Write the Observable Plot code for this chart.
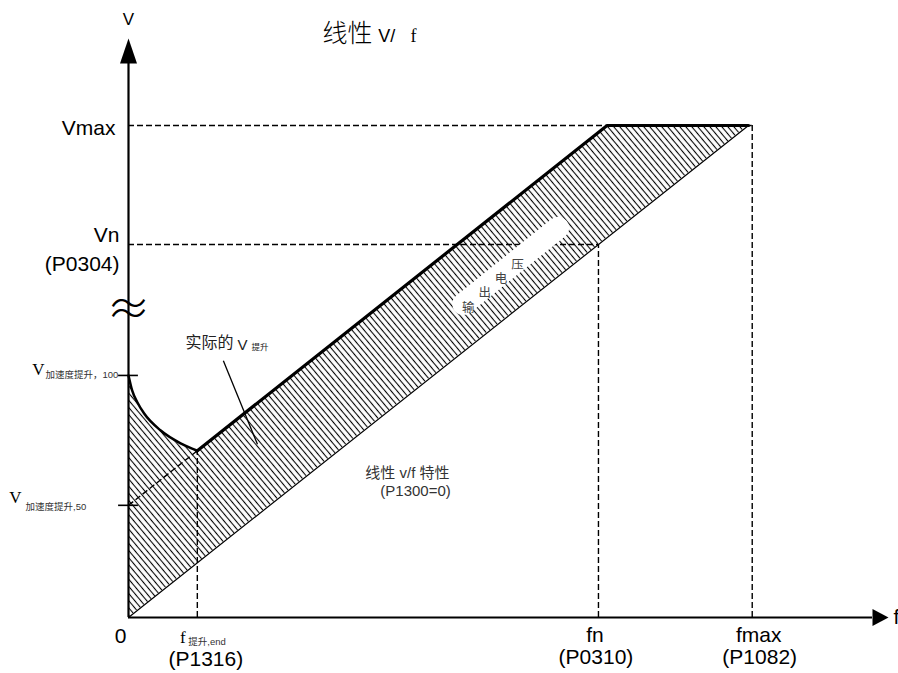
<!DOCTYPE html>
<html><head><meta charset="utf-8">
<script src="https://cdn.jsdelivr.net/npm/d3@7"></script>
<script src="https://cdn.jsdelivr.net/npm/@observablehq/plot@0.6"></script>
<style>body{margin:0;background:#fff}</style>
</head><body><div id="chart"></div>
<script>
// ---- values ----
const fNames  = ["0", "f", "fn", "fmax"];
const fSubs   = ["", "提升,end", "", ""];
const fParams = ["", "(P1316)", "(P0310)", "(P1082)"];
const fValues = [0, 11.1, 75.8, 100.6];

const vNames  = ["Vmax", "Vn", "V", "V"];
const vSubs   = ["", "", "加速度提升，100", "加速度提升,50"];
const vParams = ["", "(P0304)", "", ""];
const vValues = [100, 75.8, 49.2, 22.8];

const boostCurveF = [0, 0.6, 1.4, 2.5, 5.2, 8.4, 11.1];
const boostCurveV = [49.2, 46.1, 43.8, 41.5, 38.0, 35.4, 33.9];
const boostLineF  = [11.1, 77.2, 100];
const boostLineV  = [33.9, 100, 100];
const linearF = [0, 100];
const linearV = [0, 100];

const outputLabel = ["输", "出", "电", "压"];
const titleText = ["线性", "V/", "f"];
const boostNote = ["实际的", "V", "提升"];
const linearNote = ["线性 v/f 特性", "(P1300=0)"];

// ---- derived tables ----
const linear = d3.scaleLinear(linearF, linearV);
const curveArea = boostCurveF.map((f, i) => ({f, lo: linear(f), hi: boostCurveV[i]}));
const lineArea  = boostLineF.map((f, i) => ({f, lo: linear(f), hi: boostLineV[i]}));
const curvePts = boostCurveF.map((f, i) => [f, boostCurveV[i]]);
const linePts  = boostLineF.map((f, i) => [f, boostLineV[i]]);
const linPts   = linearF.map((f, i) => [f, linearV[i]]);

const SANS = "Liberation Sans, Arial, Noto Sans CJK SC, sans-serif";
const SERIF = "Liberation Serif, Times New Roman, serif";
const CJK = "Noto Sans CJK SC, sans-serif";

const dash = {stroke: "black", strokeWidth: 1.4, strokeDasharray: "6,3"};

function label(txt, x, y, o) {
  return Plot.text([txt], {x, y, text: d => d, lineAnchor: "bottom", fill: "black",
    fontFamily: SANS, fontSize: 21, ...o});
}

const arrowUp = {draw(ctx) { ctx.moveTo(0, -25); ctx.lineTo(8.5, 0); ctx.lineTo(-8.5, 0); ctx.closePath(); }};
const arrowRight = {draw(ctx) { ctx.moveTo(16, 0); ctx.lineTo(0, -8.5); ctx.lineTo(0, 8.5); ctx.closePath(); }};

const yAxisTop = 112.6, yArrowTip = 117.7, xAxisEnd = 120, xArrowTip = 122.6;

const svg = Plot.plot({
  width: 898, height: 673,
  marginLeft: 128, marginRight: 1.2, marginTop: 2, marginBottom: 56,
  x: {domain: [0, 124], axis: null},
  y: {domain: [0, 125], axis: null},
  style: {background: "white", overflow: "visible"},
  marks: [
    // hatched output-voltage region
    Plot.areaY(curveArea, {x: "f", y1: "lo", y2: "hi", fill: "url(#hatch)", curve: "monotone-x"}),
    Plot.areaY(lineArea, {x: "f", y1: "lo", y2: "hi", fill: "url(#hatch)"}),
    // dashed guides
    Plot.ruleY([vValues[0]], {x1: 0, x2: fValues[3], ...dash}),
    Plot.ruleY([vValues[1]], {x1: 0, x2: fValues[2], ...dash}),
    Plot.ruleX([fValues[2]], {y1: 0, y2: vValues[1], ...dash}),
    Plot.ruleX([fValues[3]], {y1: 0, y2: vValues[0], ...dash}),
    Plot.ruleX([fValues[1]], {y1: 0, y2: boostLineV[0], ...dash}),
    Plot.link([0], {x1: 0, y1: vValues[3], x2: fValues[1], y2: boostLineV[0], ...dash}),
    // white label band
    Plot.link([0], {x1: 54.0, y1: 63.7, x2: 69.3, y2: 79.2, stroke: "white", strokeWidth: 22, strokeLinecap: "round"}),
    Plot.text(outputLabel, {x: (d, i) => 54.8 + i * 2.65, y: (d, i) => 63.0 + i * 2.9, text: d => d,
      fontSize: 12.5, fill: "#444", fontFamily: CJK}),
    // characteristic lines
    Plot.line(linPts, {stroke: "black", strokeWidth: 1.2}),
    Plot.line(curvePts, {stroke: "black", strokeWidth: 2.5, curve: "monotone-x"}),
    Plot.line(linePts, {stroke: "black", strokeWidth: 3.2}),
    // axes
    Plot.ruleX([0], {y1: 0, y2: yAxisTop, stroke: "black", strokeWidth: 2.2}),
    Plot.ruleY([0], {x1: 0, x2: xAxisEnd, stroke: "black", strokeWidth: 2.2}),
    Plot.dot([0], {x: 0, y: yAxisTop, symbol: arrowUp, fill: "black", stroke: "none", r: 5}),
    Plot.dot([0], {x: xAxisEnd, y: 0, symbol: arrowRight, fill: "black", stroke: "none", r: 5}),
    Plot.ruleY([vValues[2], vValues[3]], {x1: -1.6, x2: 1.6, stroke: "black", strokeWidth: 1.6}),
    Plot.text(["≈"], {x: 0, y: 62.4, text: d => d, fontSize: 44, fontFamily: "Noto Sans CJK SC, DejaVu Sans",
      fontWeight: 300, fill: "black"}),
    // axis names
    label("V", 0, yArrowTip, {dy: -13, fontSize: 17}),
    label("f", xArrowTip, 0, {dx: 5, dy: 6, textAnchor: "start"}),
    // title
    label(titleText[0], 31.3, 116.9, {textAnchor: "start", fontSize: 25, fontFamily: CJK, fontWeight: 300}),
    label(titleText[1], 40.3, 116.9, {textAnchor: "start", fontSize: 18}),
    label(titleText[2], 45.5, 116.9, {textAnchor: "start", fontSize: 18, fontFamily: SERIF}),
    // V-axis labels
    label(vNames[0], 0, vValues[0], {dx: -13, dy: 9, textAnchor: "end"}),
    label(vNames[1], 0, vValues[1], {dx: -9, dy: -3, textAnchor: "end"}),
    label(vParams[1], 0, vValues[1], {dx: -9, dy: 26, textAnchor: "end"}),
    label(vNames[2], 0, vValues[2], {dx: -84, dy: 0, textAnchor: "end", fontSize: 17, fontFamily: SERIF}),
    label(vSubs[2], 0, vValues[2], {dx: -83, dy: 3, textAnchor: "start", fontSize: 9.5, fill: "#333"}),
    label(vNames[3], 0, vValues[3], {dx: -107, dy: -2, textAnchor: "end", fontSize: 17, fontFamily: SERIF}),
    label(vSubs[3], 0, vValues[3], {dx: -103, dy: 5, textAnchor: "start", fontSize: 9.5, fill: "#333"}),
    // f-axis labels
    label(fNames[0], fValues[0], 0, {dx: -8, dy: 25}),
    label(fNames[1], fValues[1], 0, {dx: -14.5, dy: 25, fontSize: 17, fontFamily: SERIF}),
    label(fSubs[1], fValues[1], 0, {dx: -9, dy: 27, textAnchor: "start", fontSize: 9.5, fill: "#333"}),
    label(fParams[1], fValues[1], 0, {dx: 8.5, dy: 48}),
    label(fNames[2], fValues[2], 0, {dx: -3.5, dy: 24}),
    label(fParams[2], fValues[2], 0, {dx: -2.5, dy: 46}),
    label(fNames[3], fValues[3], 0, {dx: 6.5, dy: 24}),
    label(fParams[3], fValues[3], 0, {dx: 7.5, dy: 46}),
    // annotations
    label(boostNote[0], 9.2, 54.7, {textAnchor: "start", fontSize: 16, fontFamily: CJK, fill: "#222"}),
    label(boostNote[1], 9.2, 54.7, {dx: 52, dy: 2, textAnchor: "start", fontSize: 15, fill: "#222"}),
    label(boostNote[2], 9.2, 54.7, {dx: 66, dy: 2, textAnchor: "start", fontSize: 8.5, fontFamily: CJK, fill: "#222"}),
    Plot.link([0], {x1: 15.3, y1: 52.2, x2: 20.8, y2: 35.2, stroke: "black", strokeWidth: 1.3}),
    label(linearNote[0], 38.2, 28.3, {textAnchor: "start", fontSize: 15, fill: "#333"}),
    label(linearNote[1], 38.2, 28.3, {dx: 15, dy: 18, textAnchor: "start", fontSize: 15, fill: "#333"})
  ]
});

// hatch pattern
const defs = d3.select(svg).insert("defs", ":first-child");
const pat = defs.append("pattern").attr("id", "hatch").attr("patternUnits", "userSpaceOnUse")
  .attr("width", 4.6).attr("height", 4.6).attr("patternTransform", "rotate(-40)");
pat.append("rect").attr("width", 4.6).attr("height", 4.6).attr("fill", "white");
pat.append("line").attr("x1", 2.3).attr("y1", -1).attr("x2", 2.3).attr("y2", 6)
  .attr("stroke", "black").attr("stroke-width", 1.1);

document.getElementById("chart").append(svg);
</script>
</body></html>
